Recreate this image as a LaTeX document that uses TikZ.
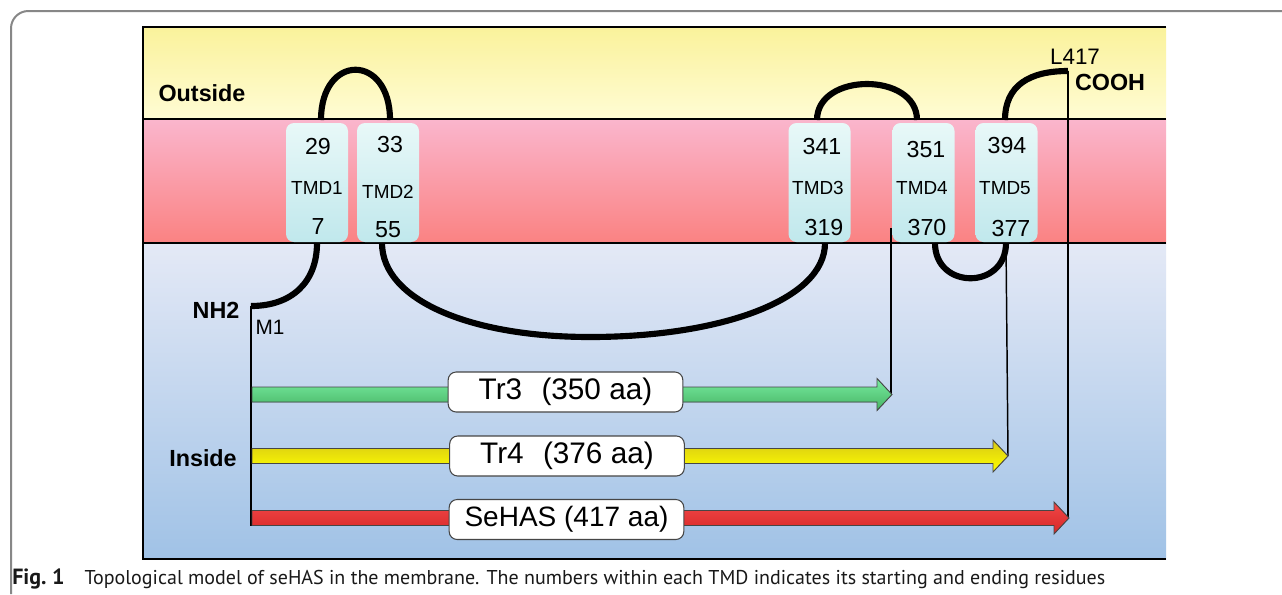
\documentclass[tikz,border=0pt]{standalone}
\usepackage{fontspec}
\setmainfont{Liberation Sans}
\newfontfamily\capfont{PT Sans}
\usetikzlibrary{calc}

\definecolor{framegray}{RGB}{135,135,135}
\definecolor{yelTop}{RGB}{250,242,155}
\definecolor{yelBot}{RGB}{255,252,212}
\definecolor{pinkTop}{RGB}{250,182,205}
\definecolor{pinkBot}{RGB}{250,130,130}
\definecolor{blueTop}{RGB}{228,233,246}
\definecolor{blueMid}{RGB}{214,225,243}
\definecolor{blueBot}{RGB}{160,194,230}
\definecolor{tmdTop}{RGB}{232,248,248}
\definecolor{tmdBot}{RGB}{192,232,236}
\definecolor{grnTop}{RGB}{120,235,160}
\definecolor{grnBot}{RGB}{70,180,100}
\definecolor{ylwTop}{RGB}{215,200,20}
\definecolor{ylwBot}{RGB}{255,255,0}
\definecolor{redTop}{RGB}{240,70,70}
\definecolor{redBot}{RGB}{215,40,40}
\definecolor{edgegray}{RGB}{70,70,70}
\definecolor{captext}{RGB}{25,25,25}

% a broad arrow: #1 centre y, #2 tip x, #3/#4 top/bottom colours
\newcommand\protarrow[4]{%
  \filldraw[arrowedge, top color=#3, bottom color=#4]
    (252,#1-7.5) -- (#2-15,#1-7.5) -- (#2-15,#1-16) -- (#2,#1)
    -- (#2-15,#1+16) -- (#2-15,#1+7.5) -- (252,#1+7.5) -- cycle;}

\begin{document}
\begin{tikzpicture}[x=0.75pt,y=-0.75pt,
  tmdbox/.style={rounded corners=6pt, minimum width=46.5pt, minimum height=89.25pt,
     top color=tmdTop, bottom color=tmdBot, draw=none, inner sep=0pt},
  numtxt/.style={font=\fontsize{17.4}{20}\selectfont, inner sep=0pt},
  tmdtxt/.style={font=\fontsize{14.2}{17}\selectfont, inner sep=0pt},
  boldlbl/.style={font=\fontsize{17.5}{20}\selectfont\bfseries, inner sep=0pt},
  plainlbl/.style={font=\fontsize{16.2}{19}\selectfont, inner sep=0pt},
  chain/.style={line width=4.6pt, black},
  guide/.style={line width=1.1pt, black},
  arrowedge/.style={draw=edgegray, line width=0.7pt},
  lblbox/.style={rounded corners=6pt, minimum width=176pt, minimum height=30pt,
     fill=white, draw=edgegray, line width=0.8pt, inner sep=0pt,
     font=\fontsize{21}{24}\selectfont},
  bandline/.style={line width=1.6pt, black}]

\useasboundingbox (0,0) rectangle (1282,594);
\fill[white] (0,0) rectangle (1282,594);

% outer frame
\draw[framegray, line width=1.5pt, rounded corners=13pt] (11,594) -- (11,11) -- (1282,11);

% membrane bands
\shade[top color=yelTop, bottom color=yelBot] (143,27) rectangle (1166,119);
\shade[top color=pinkTop, bottom color=pinkBot] (143,119) rectangle (1166,243);
\shade[top color=blueTop, middle color=blueMid, bottom color=blueBot] (143,243) rectangle (1166,559);
\draw[bandline] (143,119) -- (1166,119);
\draw[bandline] (143,243) -- (1166,243);
\draw[bandline] (1166,27) -- (143,27) -- (143,559) -- (1166,559);

% side labels
\node[boldlbl] (outside) at (202,93) {Outside};
\node[boldlbl] (inside) at (203,458) {Inside};
\node[boldlbl] (nh2) at (216,310) {NH2};
\node[plainlbl, font=\fontsize{15.6}{18}\selectfont] (m1) at (270,327) {M1};
\node[plainlbl, font=\fontsize{16.8}{19}\selectfont] (l417) at (1075,57) {L417};
\node[boldlbl] (cooh) at (1110,82) {COOH};

% transmembrane domains
\node[tmdbox] (tmd1) at (317,182.5) {};
\node[tmdbox] (tmd2) at (388,182.5) {};
\node[tmdbox] (tmd3) at (819.5,182.5) {};
\node[tmdbox] (tmd4) at (923.5,182.5) {};
\node[tmdbox] (tmd5) at (1006.5,182.5) {};

\node[numtxt] at (318,147) {29};
\node[tmdtxt] at (317,188) {TMD1};
\node[numtxt] at (318,227) {7};
\node[numtxt] at (390,145) {33};
\node[tmdtxt] at (388,192) {TMD2};
\node[numtxt] at (388,230) {55};
\node[numtxt] at (822,147) {341};
\node[tmdtxt] at (818,188) {TMD3};
\node[numtxt] at (824,228) {319};
\node[numtxt] at (926,150) {351};
\node[tmdtxt] at (922,188) {TMD4};
\node[numtxt] at (927,228) {370};
\node[numtxt] at (1007,146) {394};
\node[tmdtxt] at (1005,188) {TMD5};
\node[numtxt] at (1011,229) {377};

% anchor points of the chain
\coordinate (nterm) at (251,306);
\coordinate (t1in) at (317,243);
\coordinate (t1out) at (321,120);
\coordinate (t2out) at (390,120);
\coordinate (t2in) at (382,243);
\coordinate (t3in) at (825,243);
\coordinate (t3out) at (817,120);
\coordinate (t4out) at (917,120);
\coordinate (t4in) at (935,243);
\coordinate (t5in) at (1006,243);
\coordinate (t5out) at (1005,120);
\coordinate (cterm) at (1068,71);

% polypeptide chain
\draw[chain] (t1in) .. controls (317,282) and (292,306) .. (nterm);
\draw[chain] (t1out) .. controls (321,53) and (390,53) .. (t2out);
\draw[chain] (t2in) .. controls (382,300) and (470,337) .. (590,337)
                     .. controls (720,337) and (825,300) .. (t3in);
\draw[chain] (t3out) .. controls (817,72) and (917,72) .. (t4out);
\draw[chain] (t4in) .. controls (935,290) and (1006,290) .. (t5in);
\draw[chain] (t5out) .. controls (1005,85) and (1030,71) .. (cterm);

% end points of the products
\coordinate (tr3end) at (891,394.5);
\coordinate (tr4end) at (1008,456);
\coordinate (hasend) at (1068,518);
\coordinate (tmd4mark) at (891,228);
\coordinate (baseend) at (251,526);

\draw[guide] (nterm) -- (baseend);
\draw[guide] (tmd4mark) -- (tr3end);
\draw[guide] (t5in) -- (tr4end);
\draw[guide] (cterm) -- (hasend);

% products
\protarrow{394.5}{892}{grnTop}{grnBot}
\protarrow{456}{1008}{ylwTop}{ylwBot}
\protarrow{518}{1069}{redTop}{redBot}

\node[lblbox, font=\fontsize{22.3}{25}\selectfont] (tr3) at (565.5,392) {Tr3\hspace{0.65em}(350 aa)};
\node[lblbox, font=\fontsize{22.3}{25}\selectfont] (tr4) at (567,456) {Tr4\hspace{0.65em}(376 aa)};
\node[lblbox] (sehas) at (566.5,519.5) {SeHAS (417 aa)};

% caption
\node[anchor=west, inner sep=0pt, text=captext, font=\capfont\fontsize{15}{17}\selectfont] (caption) at (12,579)
  {{\fontsize{16.5}{17}\selectfont\textbf{Fig.~1}}\hspace{1em}Topological model of seHAS in the membrane. The numbers within each TMD indicates its starting and ending residues};

\end{tikzpicture}
\end{document}
